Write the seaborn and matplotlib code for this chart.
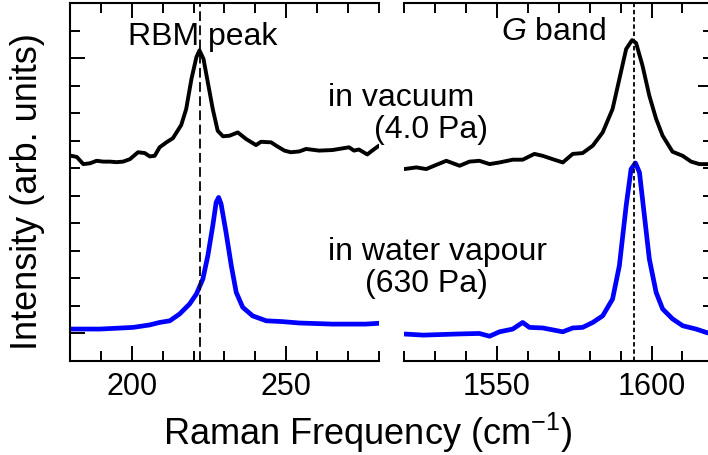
import matplotlib
matplotlib.use("Agg")
import matplotlib.pyplot as plt
from matplotlib.ticker import FixedLocator, MultipleLocator
import seaborn as sns
import pandas as pd

# ---- data ----
vac_rbm_x = [180, 182.2, 184.3, 186.5, 188.6, 190.8, 193, 195, 197.2, 199.4, 202, 204.2, 205.8,
             207.4, 209, 211.2, 213.3, 216, 217.6, 219.3, 220.9, 221.9, 223.2, 224.6, 226.2,
             227.8, 229.5, 231.6, 234.3, 237, 240.2, 241.8, 245.1, 246.7, 249.4, 251.5, 254.2,
             256.4, 260.6, 264.9, 270.3, 271.9, 273.5, 276.2, 277.8, 280]
vac_rbm_y = [7.46, 7.41, 7.15, 7.18, 7.27, 7.24, 7.24, 7.22, 7.24, 7.33, 7.58, 7.55, 7.43,
             7.45, 7.76, 7.94, 8.09, 8.57, 9.15, 10.24, 11.03, 11.28, 10.97, 10.12, 9.15,
             8.36, 8.16, 8.18, 8.30, 8.06, 7.84, 7.96, 7.94, 7.82, 7.64, 7.58, 7.61,
             7.70, 7.64, 7.66, 7.76, 7.64, 7.68, 7.50, 7.64, 7.82]

wat_rbm_x = [180, 189.7, 200.4, 205.8, 209, 212.3, 215.5, 218.7, 220.9, 223, 224.6, 226.2,
             227.3, 228.1, 228.9, 230.5, 232.2, 233.8, 235.9, 239.1, 243.5, 248.8, 254.2,
             264.9, 275.7, 280]
wat_rbm_y = [1.16, 1.16, 1.22, 1.31, 1.40, 1.46, 1.71, 2.07, 2.43, 2.98, 3.82, 4.91,
             5.76, 5.94, 5.70, 4.67, 3.46, 2.49, 1.95, 1.64, 1.46, 1.43, 1.38,
             1.34, 1.34, 1.37]

vac_g_x = [1520, 1523.9, 1527.1, 1530.3, 1533.6, 1537.9, 1541.1, 1544.3, 1547.6, 1550.8,
           1555.1, 1558.3, 1562.1, 1564.8, 1568, 1571.3, 1574.5, 1577.7, 1581, 1584.2,
           1587.4, 1589.6, 1591.8, 1593.7, 1595, 1597.1, 1599.3, 1601.5, 1603.6, 1606.8,
           1610.1, 1612.8, 1615.5, 1618.2]
vac_g_y = [6.97, 7.03, 6.97, 7.12, 7.27, 7.09, 7.24, 7.27, 7.15, 7.21,
           7.31, 7.31, 7.52, 7.45, 7.33, 7.21, 7.52, 7.55, 7.82, 8.30,
           9.15, 10.24, 11.33, 11.65, 11.55, 10.72, 9.63, 8.79, 8.18, 7.60,
           7.45, 7.24, 7.15, 7.15]

wat_g_x = [1520, 1526.2, 1537, 1544.3, 1547.6, 1550.8, 1555.1, 1558.3, 1560.5, 1564.8,
           1571.3, 1574.5, 1577.7, 1581, 1584.2, 1587.4, 1589.6, 1591.8, 1593.4, 1594.8,
           1596.1, 1597.7, 1599.3, 1601.5, 1603.6, 1606.8, 1610.1, 1614.4, 1618.2]
wat_g_y = [0.98, 0.94, 0.98, 1.00, 0.90, 1.06, 1.16, 1.40, 1.22, 1.20,
           1.06, 1.20, 1.22, 1.40, 1.64, 2.25, 3.46, 5.64, 6.97, 7.19,
           6.85, 5.28, 3.70, 2.49, 1.89, 1.53, 1.28, 1.16, 1.02]

rbm_line_x = 222.0
g_line_x = 1594.4
left_xlim = (180, 280)
right_xlim = (1520, 1620)
ylim = (0, 13)

# ---- style ----
sns.set_theme(style="ticks")
plt.rcParams["font.family"] = ["Liberation Sans", "DejaVu Sans"]
plt.rcParams["mathtext.fontset"] = "custom"
plt.rcParams["mathtext.rm"] = "Liberation Sans"
plt.rcParams["mathtext.it"] = "Liberation Sans:italic"
plt.rcParams["lines.scale_dashes"] = False
plt.rcParams["text.color"] = "black"
plt.rcParams["axes.labelcolor"] = "black"
plt.rcParams["xtick.color"] = "black"
plt.rcParams["ytick.color"] = "black"

W, H = 708, 456
fig = plt.figure(figsize=(W / 100, H / 100), dpi=100)
fig.patch.set_facecolor("white")

def px_rect(x0, y0, x1, y1):
    return [x0 / W, 1 - y1 / H, (x1 - x0) / W, (y1 - y0) / H]

axL = fig.add_axes(px_rect(70, 4, 379, 362))
axR = fig.add_axes(px_rect(404.3, 4, 713.3, 362))

def df(x, y):
    return pd.DataFrame({"x": x, "y": y})

sns.lineplot(data=df(vac_rbm_x, vac_rbm_y), x="x", y="y", ax=axL, color="black",
             lw=2.8, estimator=None, sort=False)
sns.lineplot(data=df(wat_rbm_x, wat_rbm_y), x="x", y="y", ax=axL, color="#0000ff",
             lw=3.4, estimator=None, sort=False)
sns.lineplot(data=df(vac_g_x, vac_g_y), x="x", y="y", ax=axR, color="black",
             lw=2.8, estimator=None, sort=False)
sns.lineplot(data=df(wat_g_x, wat_g_y), x="x", y="y", ax=axR, color="#0000ff",
             lw=3.4, estimator=None, sort=False)

axL.axvline(rbm_line_x, color="black", lw=1.3, ls=(0, (7.0, 3.2)), zorder=5)
axR.axvline(g_line_x, color="black", lw=1.3, ls=(0, (3.2, 2.0)), zorder=5)

for ax, xl in ((axL, left_xlim), (axR, right_xlim)):
    ax.set_xlim(*xl)
    ax.set_ylim(*ylim)
    ax.set_xlabel("")
    ax.set_ylabel("")
    ax.set_facecolor("white")
    for s in ax.spines.values():
        s.set_linewidth(1.5)
        s.set_color("black")
    ax.xaxis.set_minor_locator(MultipleLocator(10))
    ax.yaxis.set_minor_locator(MultipleLocator(1))
    ax.tick_params(which="both", direction="in", top=True, bottom=True,
                   width=1.4, colors="black", labelsize=22, pad=7)
    ax.tick_params(which="major", length=11)
    ax.tick_params(which="minor", length=7.5)

# broken axis: inner spines are hidden; the edge ticks remain as short stubs
axL.spines["right"].set_visible(False)
axR.spines["left"].set_visible(False)

axL.xaxis.set_major_locator(FixedLocator([200, 250]))
axR.xaxis.set_major_locator(FixedLocator([1550, 1600]))
axL.yaxis.set_major_locator(FixedLocator([1, 11]))
axR.yaxis.set_major_locator(FixedLocator([0, 10]))
axL.tick_params(axis="y", which="both", left=True, right=False, labelleft=False)
axR.tick_params(axis="y", which="both", left=False, right=True, labelleft=False,
                labelright=False)

def ftext(x, y, s, **kw):
    fig.text(x / W, 1 - y / H, s, color="black", **kw)

fs = 23
ftext(203, 45, "RBM peak", ha="center", va="baseline", fontsize=fs)
ftext(553, 40, "$G$ band", ha="center", va="baseline", fontsize=fs)
ftext(328, 106, "in vacuum", ha="left", va="baseline", fontsize=fs)
ftext(488, 138, "(4.0 Pa)", ha="right", va="baseline", fontsize=fs)
ftext(328, 260, "in water vapour", ha="left", va="baseline", fontsize=fs)
ftext(488, 292, "(630 Pa)", ha="right", va="baseline", fontsize=fs)

ftext(367.5, 445, "Raman Frequency (cm$^{-1}$)", ha="center", va="baseline", fontsize=26)
ftext(28, 191.5, "Intensity (arb. units)", ha="center", va="center",
      rotation=90, fontsize=26)

fig.savefig("out.png", dpi=100, facecolor="white")
